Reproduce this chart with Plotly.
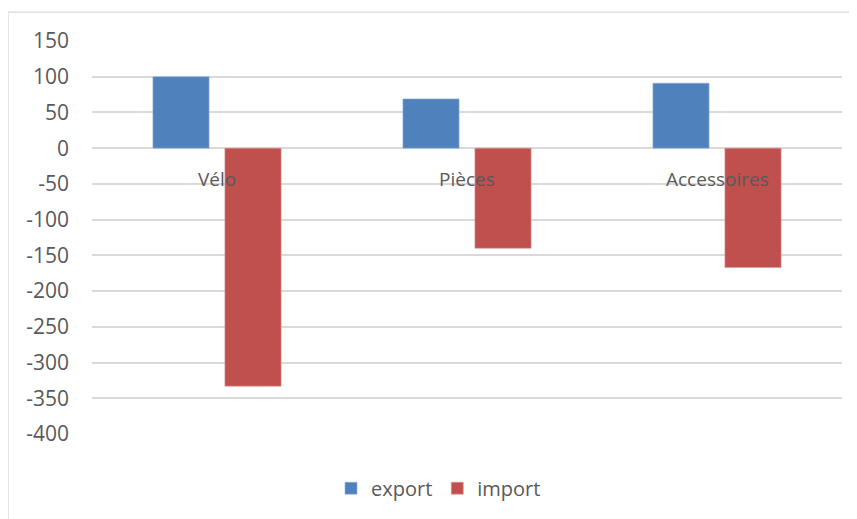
import plotly.graph_objects as go

categories = ["Vélo", "Pièces", "Accessoires"]
export_vals = [100, 69, 91]
import_vals = [-333, -140, -167]
y_ticks = [150, 100, 50, 0, -50, -100, -150, -200, -250, -300, -350, -400]
y_tick_text = [str(v) for v in y_ticks]  # plain hyphen minus like the original

FONT = "Open Sans"
GREY = "#595959"
GRID = "#D9D9D9"

fig = go.Figure()
fig.add_bar(x=categories, y=export_vals, name="export",
            marker=dict(color="#4F81BD", line=dict(color="#95B3D7", width=0.6)))
fig.add_bar(x=categories, y=import_vals, name="import",
            marker=dict(color="#C0504D", line=dict(color="#D99694", width=0.6)))

# category labels sit next to the zero line, drawn over the bars
for c in categories:
    fig.add_annotation(x=c, y=0, xref="x", yref="y", text=c, showarrow=False,
                       yanchor="middle", yshift=-31,
                       font=dict(family=FONT, size=19, color=GREY))

# outer chart border
fig.add_shape(type="rect", xref="paper", yref="paper",
              x0=-0.112, x1=1.05, y0=-0.3, y1=1.0736,
              line=dict(color=GRID, width=1.3), fillcolor="rgba(0,0,0,0)", layer="below")

# page body has an 8px margin, so the figure is a bit smaller than the window
fig.update_layout(
    width=849, height=511,
    margin=dict(l=84, r=15, t=33, b=84),
    paper_bgcolor="white", plot_bgcolor="white",
    barmode="group", bargap=0.424, bargroupgap=0.22,
    font=dict(family=FONT, size=20, color=GREY),
    showlegend=True,
    legend=dict(orientation="h", x=0.462, xanchor="center", y=-0.135, yanchor="middle",
                font=dict(family=FONT, size=20, color=GREY),
                itemwidth=30, tracegroupgap=0),
    xaxis=dict(showticklabels=False, showgrid=False, zeroline=False, showline=False,
               ticks=""),
    yaxis=dict(range=[-400, 150], tickvals=y_ticks, ticktext=y_tick_text,
               showgrid=True, gridcolor=GRID,
               gridwidth=1.6, zeroline=True, zerolinecolor=GRID, zerolinewidth=1.6,
               showline=False, ticks="", ticklabelstandoff=22,
               tickfont=dict(family=FONT, size=21, color=GREY)),
)

fig.write_html("out.html")
